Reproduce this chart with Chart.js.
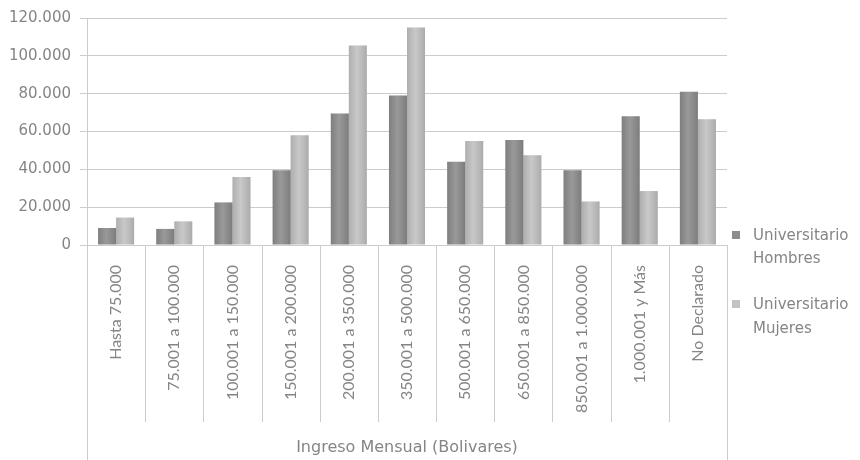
<!DOCTYPE html>
<html>
<head>
<meta charset="utf-8">
<script src="https://cdn.jsdelivr.net/npm/chart.js@4"></script>
<style>
html,body{margin:0;padding:0;background:#fff;}
#wrap{position:relative;width:860px;height:460px;}
</style>
</head>
<body>
<div id="wrap"><canvas id="c" width="860" height="460"></canvas></div>
<script>
const categories = ['Hasta 75.000','75.001 a 100.000','100.001 a 150.000','150.001 a 200.000','200.001 a 350.000','350.001 a 500.000','500.001 a 650.000','650.001 a 850.000','850.001 a 1.000.000','1.000.001 y Más','No Declarado'];
const hombres = [9000, 8500, 22500, 39500, 69500, 79000, 44000, 55500, 39500, 68000, 81000];
const mujeres = [14500, 12500, 36000, 58000, 105500, 115000, 55000, 47500, 23000, 28500, 66500];
const seriesLabels = [['Universitario','Hombres'], ['Universitario','Mujeres']];
const axisTitle = 'Ingreso Mensual (Bolivares)';
const yTicks = [0, 20000, 40000, 60000, 80000, 100000, 120000];

const FONT_V = 'Lato, "Open Sans", sans-serif';
const FONT_H = '"DejaVu Sans", sans-serif';
const TEXT = '#858585';
const GRID = '#cccccc';
const colH = '#8d8d8d';
const colM = '#c2c2c2';

function fmt(v){ return String(v).replace(/\B(?=(\d{3})+(?!\d))/g, '.'); }

const framePlugin = {
  id: 'frame',
  afterDatasetsDraw(chart){
    const ctx = chart.ctx;
    ctx.save();
    chart.data.datasets.forEach((ds, di) => {
      chart.getDatasetMeta(di).data.forEach(el => {
        const l = el.x - el.width/2, w = el.width;
        const g = ctx.createLinearGradient(l, 0, l + w, 0);
        g.addColorStop(0, 'rgba(0,0,0,0.10)');
        g.addColorStop(0.45, 'rgba(255,255,255,0.10)');
        g.addColorStop(1, 'rgba(0,0,0,0.12)');
        ctx.fillStyle = g;
        ctx.fillRect(l, el.y, w, el.base - el.y);
      });
    });
    ctx.restore();
  },
  afterDraw(chart){
    const ctx = chart.ctx, xs = chart.scales.x, ca = chart.chartArea;
    const n = categories.length;
    const step = xs.getPixelForValue(1) - xs.getPixelForValue(0);
    ctx.save();
    ctx.strokeStyle = GRID; ctx.lineWidth = 1;
    for (let i = 0; i <= n; i++) {
      const x = Math.round(xs.getPixelForValue(i) - step/2) + 0.5;
      let y0 = ca.bottom, y1 = ca.bottom + 177;
      if (i === 0) { y0 = ca.top; y1 = chart.height; }
      if (i === n) { y1 = chart.height; }
      ctx.beginPath(); ctx.moveTo(x, y0); ctx.lineTo(x, y1); ctx.stroke();
    }
    // legend
    const lx = 732, rows = [[236, 259], [305, 329]];
    const cols = [colH, colM];
    ctx.font = '15px ' + FONT_H;
    ctx.textBaseline = 'middle';
    rows.forEach((r, k) => {
      ctx.fillStyle = cols[k];
      ctx.fillRect(lx, r[0] - 5, 8, 8);
      ctx.fillStyle = TEXT;
      ctx.fillText(seriesLabels[k][0], lx + 21, r[0]);
      ctx.fillText(seriesLabels[k][1], lx + 21, r[1]);
    });
    ctx.restore();
  }
};

new Chart(document.getElementById('c'), {
  type: 'bar',
  data: {
    labels: categories,
    datasets: [
      { label: seriesLabels[0].join(' '), data: hombres, backgroundColor: colH, borderWidth: 0 },
      { label: seriesLabels[1].join(' '), data: mujeres, backgroundColor: colM, borderWidth: 0 }
    ]
  },
  options: {
    responsive: false,
    animation: false,
    devicePixelRatio: 1,
    layout: { padding: { left: 0, top: 16, right: 133, bottom: 0 } },
    datasets: { bar: { categoryPercentage: 0.62, barPercentage: 1 } },
    plugins: { legend: { display: false }, tooltip: { enabled: false } },
    scales: {
      x: {
        grid: { display: false },
        border: { display: false },
        ticks: { color: TEXT, font: { family: FONT_V, size: 16 }, minRotation: 90, maxRotation: 90, padding: 12, autoSkip: false },
        title: { display: true, text: axisTitle, color: TEXT, font: { family: FONT_H, size: 16 }, padding: { top: 0, bottom: 3 } },
        afterFit(s){ s.height = 215; }
      },
      y: {
        min: 0, max: 120000,
        afterBuildTicks(s){ s.ticks = yTicks.map(v => ({ value: v })); },
        grid: { color: GRID, tickLength: 7, tickColor: GRID },
        border: { display: false },
        ticks: { color: TEXT, font: { family: FONT_H, size: 15 }, padding: 9, callback: v => fmt(v) },
        afterFit(s){ s.width = 87; }
      }
    }
  },
  plugins: [framePlugin]
});
</script>
</body>
</html>
